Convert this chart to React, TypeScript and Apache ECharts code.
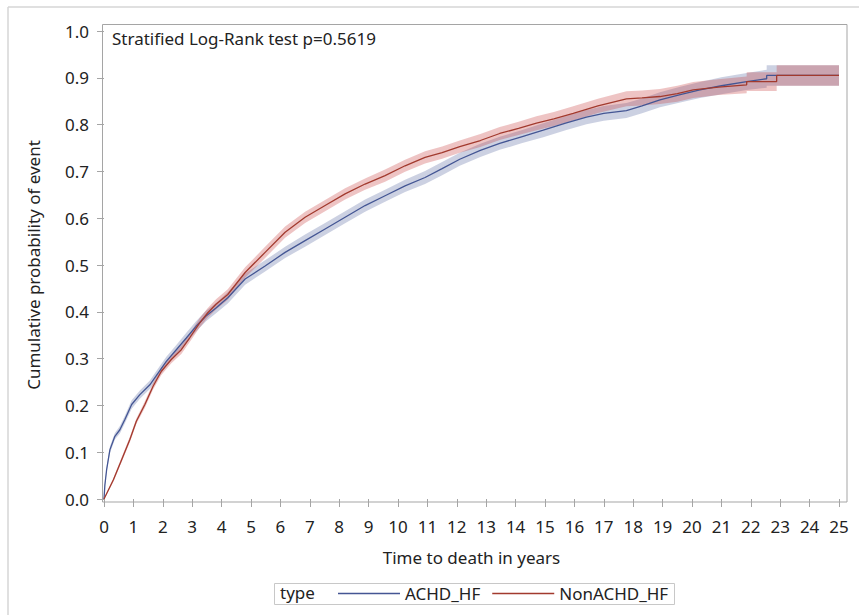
import React, { useEffect, useRef } from "react";
import * as echarts from "echarts";

// ACHD_HF (blue) cumulative probability curve
const achdTime = [0, 0.03, 0.09, 0.2, 0.37, 0.54, 0.71, 0.94, 1.22, 1.56, 1.84, 2.12, 2.46, 2.8, 3.13, 3.47, 3.81, 4.21, 4.8, 5.48, 6.16, 6.84, 7.52, 8.2, 8.88, 9.56, 10.24, 10.92, 11.5, 12.1, 12.8, 13.46, 14.2, 14.94, 15.7, 16.41, 17.0, 17.77, 18.3, 18.91, 19.6, 20.27, 21.0, 21.86, 22.54, 22.54, 25.0];
const achdProb = [0, 0.03, 0.063, 0.105, 0.134, 0.148, 0.17, 0.202, 0.223, 0.244, 0.269, 0.294, 0.319, 0.344, 0.369, 0.391, 0.408, 0.43, 0.47, 0.498, 0.527, 0.552, 0.577, 0.602, 0.627, 0.648, 0.669, 0.687, 0.706, 0.726, 0.745, 0.76, 0.774, 0.788, 0.803, 0.816, 0.824, 0.83, 0.84, 0.853, 0.864, 0.874, 0.883, 0.892, 0.898, 0.905, 0.905];
// half-width of the confidence band
const achdBand = [0.002, 0.005, 0.006, 0.007, 0.007, 0.008, 0.008, 0.009, 0.009, 0.009, 0.01, 0.01, 0.01, 0.011, 0.011, 0.011, 0.011, 0.012, 0.012, 0.012, 0.012, 0.013, 0.013, 0.013, 0.013, 0.013, 0.013, 0.014, 0.014, 0.014, 0.014, 0.014, 0.014, 0.015, 0.015, 0.015, 0.016, 0.016, 0.016, 0.016, 0.017, 0.017, 0.018, 0.018, 0.019, 0.022, 0.022];

// NonACHD_HF (red)
const nonTime = [0, 0.32, 0.6, 0.88, 1.1, 1.39, 1.67, 1.95, 2.29, 2.63, 2.91, 3.25, 3.53, 3.81, 4.21, 4.8, 5.48, 6.16, 6.84, 7.52, 8.2, 8.88, 9.56, 10.24, 10.92, 11.5, 12.1, 12.8, 13.46, 14.1, 14.71, 15.3, 15.96, 16.8, 17.77, 18.3, 18.91, 19.5, 20.04, 20.9, 21.86, 21.86, 22.88, 22.88, 25.0];
const nonProb = [0, 0.041, 0.084, 0.127, 0.166, 0.202, 0.241, 0.273, 0.298, 0.319, 0.344, 0.376, 0.398, 0.416, 0.437, 0.484, 0.527, 0.57, 0.602, 0.627, 0.652, 0.673, 0.691, 0.712, 0.73, 0.74, 0.753, 0.766, 0.781, 0.792, 0.803, 0.812, 0.824, 0.84, 0.855, 0.857, 0.86, 0.866, 0.874, 0.88, 0.885, 0.892, 0.892, 0.905, 0.905];
const nonBand = [0.001, 0.004, 0.005, 0.006, 0.006, 0.007, 0.007, 0.008, 0.008, 0.009, 0.009, 0.01, 0.01, 0.011, 0.011, 0.011, 0.012, 0.012, 0.012, 0.012, 0.012, 0.012, 0.013, 0.013, 0.013, 0.013, 0.013, 0.014, 0.014, 0.014, 0.015, 0.015, 0.015, 0.015, 0.016, 0.016, 0.016, 0.017, 0.017, 0.017, 0.018, 0.02, 0.02, 0.022, 0.022];

const seriesNames = ["ACHD_HF", "NonACHD_HF"];
const titleText = "Stratified Log-Rank test p=0.5619";
const xTitle = "Time to death in years";
const yTitle = "Cumulative probability of event";
const legendTitle = "type";

const FONT = "Noto Sans";
const FS = 17;
const BLUE = "#445694";
const RED = "#A23A2E";
const TXT = "#222";

function bandSeries(time: number[], prob: number[], band: number[], fill: string) {
  const data = time.map((t, i) => [t, prob[i] - band[i], prob[i] + band[i]]);
  return {
    type: "custom",
    silent: true,
    clip: true,
    data,
    encode: { x: 0, y: [1, 2] },
    z: 1,
    renderItem: (params: any, api: any) => {
      if (params.dataIndex !== 0) return null;
      const upper = data.map((d) => api.coord([d[0], d[2]]));
      const lower = data.map((d) => api.coord([d[0], d[1]])).reverse();
      return {
        type: "polygon",
        shape: { points: upper.concat(lower) },
        style: { fill },
      };
    },
  };
}

export default function App() {
  const ref = useRef<HTMLDivElement>(null);
  useEffect(() => {
    if (!ref.current) return;
    const chart = echarts.init(ref.current, null, { renderer: "svg" });
    chart.setOption({
      animation: false,
      backgroundColor: "#ffffff",
      textStyle: { fontFamily: FONT },
      title: {
        text: titleText,
        left: 107,
        top: 25,
        textStyle: { fontFamily: FONT, fontSize: FS, fontWeight: "normal", color: TXT },
      },
      grid: { left: 104, top: 31, width: 735, height: 468 },
      legend: {
        data: seriesNames,
        left: 338,
        top: 585,
        padding: 0,
        itemWidth: 62,
        itemHeight: 1.5,
        itemGap: 12,
        icon: "rect",
        textStyle: { fontFamily: FONT, fontSize: FS, color: TXT },
      },
      xAxis: {
        type: "value",
        min: 0,
        max: 25,
        interval: 1,
        offset: 3,
        axisLine: { show: false },
        axisTick: { show: true, length: 8, lineStyle: { color: "#a5a5a5" } },
        axisLabel: { margin: 16, fontSize: FS, color: TXT, fontFamily: FONT },
        splitLine: { show: false },
        name: xTitle,
        nameLocation: "middle",
        nameGap: 47,
        nameTextStyle: { fontSize: FS, color: TXT, fontFamily: FONT },
      },
      yAxis: {
        type: "value",
        min: 0,
        max: 1,
        interval: 0.1,
        offset: 2,
        axisLine: { show: false },
        axisTick: { show: true, length: 7, lineStyle: { color: "#a5a5a5" } },
        axisLabel: {
          margin: 13,
          fontSize: FS,
          color: TXT,
          fontFamily: FONT,
          formatter: (v: number) => v.toFixed(1),
        },
        splitLine: { show: false },
        name: yTitle,
        nameLocation: "middle",
        nameGap: 60,
        nameTextStyle: { fontSize: FS, color: TXT, fontFamily: FONT },
      },
      graphic: [
        { type: "line", shape: { x1: 8, y1: 7, x2: 859, y2: 7 }, style: { stroke: "#d6d6d6", lineWidth: 1.5 } },
        { type: "line", shape: { x1: 8, y1: 7, x2: 8, y2: 615 }, style: { stroke: "#d6d6d6", lineWidth: 1.5 } },
        { type: "rect", shape: { x: 102.5, y: 24.5, width: 744.5, height: 477.5 }, style: { fill: null, stroke: "#a5a5a5", lineWidth: 1 }, silent: true },
        { type: "rect", shape: { x: 274.5, y: 583.5, width: 400, height: 21 }, style: { fill: null, stroke: "#c8c8c8", lineWidth: 1 }, silent: true },
        { type: "text", left: 280, top: 584, style: { text: legendTitle, fontSize: FS, fontFamily: FONT, fill: TXT } },
      ],
      series: [
        bandSeries(achdTime, achdProb, achdBand, "rgba(68,86,148,0.27)"),
        bandSeries(nonTime, nonProb, nonBand, "rgba(200,60,60,0.3)"),
        {
          name: seriesNames[0],
          type: "line",
          data: achdTime.map((t, i) => [t, achdProb[i]]),
          showSymbol: false,
          symbol: "none",
          z: 3,
          lineStyle: { color: BLUE, width: 1.3 },
          itemStyle: { color: BLUE },
        },
        {
          name: seriesNames[1],
          type: "line",
          data: nonTime.map((t, i) => [t, nonProb[i]]),
          showSymbol: false,
          symbol: "none",
          z: 3,
          lineStyle: { color: RED, width: 1.3 },
          itemStyle: { color: RED },
        },
      ],
    });
    return () => chart.dispose();
  }, []);
  return (
    <div
      ref={ref}
      style={{ position: "absolute", left: 0, top: 0, width: 859, height: 615 }}
    />
  );
}
